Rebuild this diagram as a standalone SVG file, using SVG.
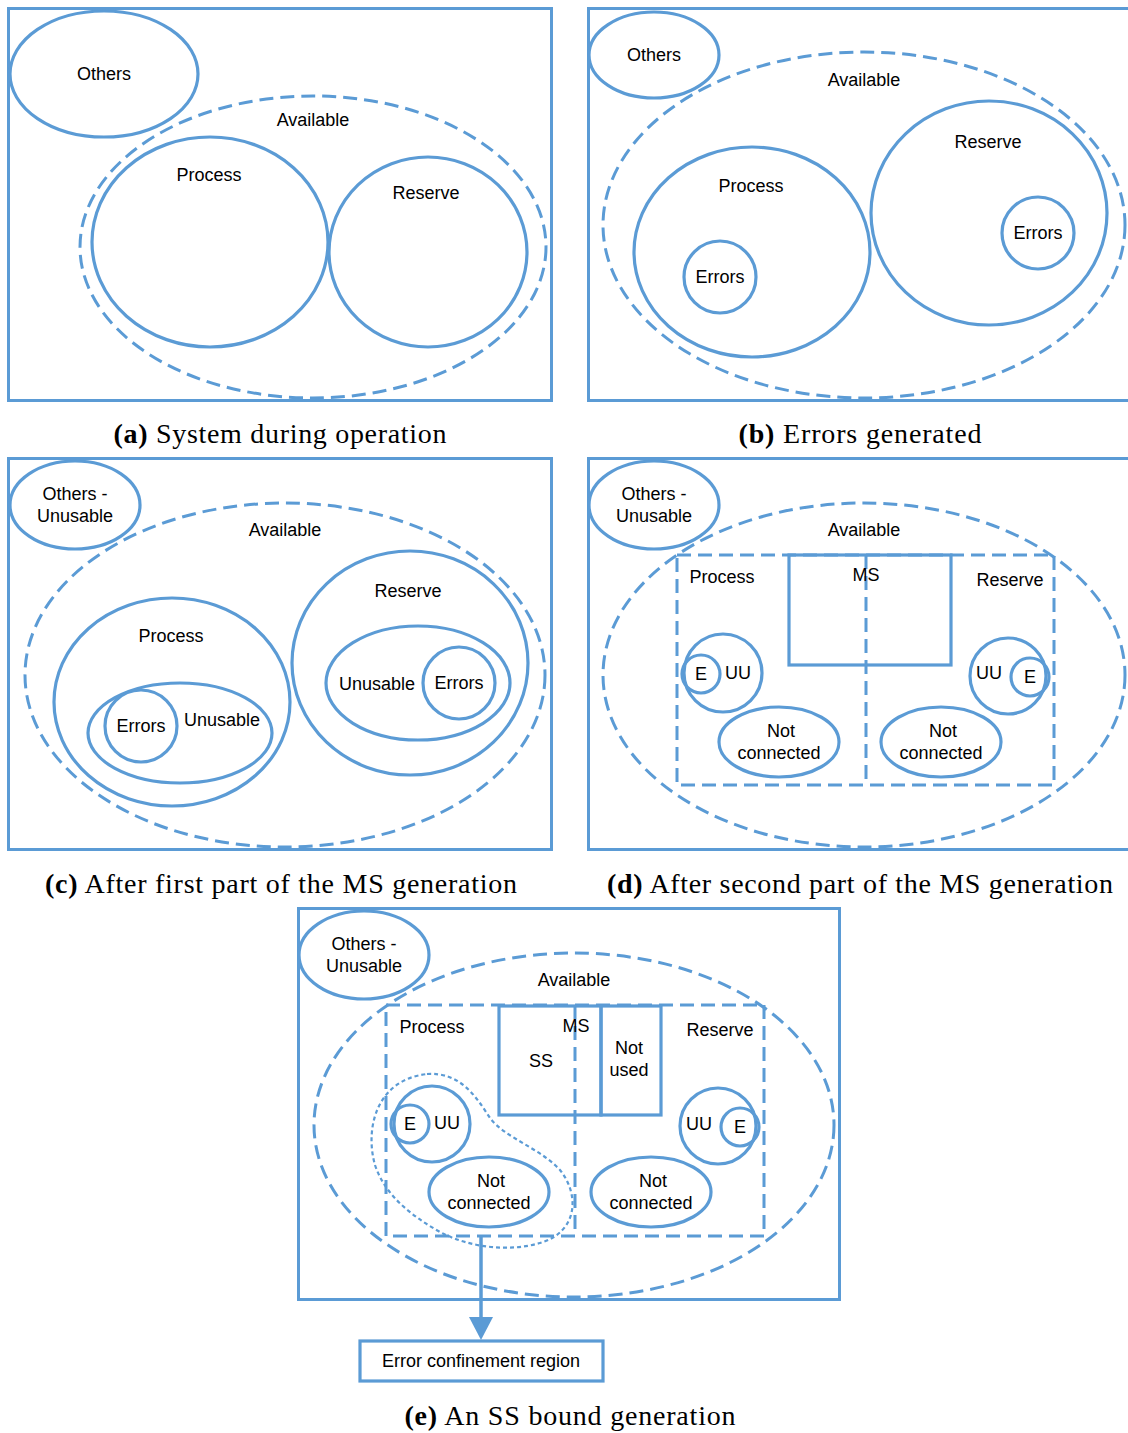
<svg xmlns="http://www.w3.org/2000/svg" width="1128" height="1433" viewBox="0 0 1128 1433">
  <style>
    .frame { fill: none; stroke: #5B9BD5; stroke-width: 3; }
    .set { fill: none; stroke: #5B9BD5; stroke-width: 3.2; }
    .avail { fill: none; stroke: #5B9BD5; stroke-width: 3; stroke-dasharray: 14 7; }
    .part { fill: none; stroke: #5B9BD5; stroke-width: 3; stroke-dasharray: 14 7; }
    .conf { fill: none; stroke: #5B9BD5; stroke-width: 2.2; stroke-dasharray: 4 3; }
    .lbl { font-family: "Liberation Sans", Arial, sans-serif; font-size: 18px; fill: #000; text-anchor: middle; dominant-baseline: central; }
    .cap { font-family: "Liberation Serif", "Times New Roman", serif; font-size: 28px; fill: #000; text-anchor: middle; }
    .cap .tag { font-weight: bold; }
  </style>
  <rect width="1128" height="1433" fill="#fff"/>

  <!-- (a) System during operation -->
  <g id="panel-a">
    <rect class="frame" x="8.5" y="8.5" width="543" height="392"/>
    <g id="a-others"><ellipse class="set" cx="104" cy="74" rx="94" ry="63"/><text class="lbl" x="104" y="74">Others</text></g>
    <g id="a-available"><ellipse class="avail" cx="313" cy="247" rx="233" ry="151"/><text class="lbl" x="313" y="120">Available</text></g>
    <g id="a-process"><ellipse class="set" cx="210" cy="242" rx="118" ry="105"/><text class="lbl" x="209" y="175">Process</text></g>
    <g id="a-reserve"><ellipse class="set" cx="428" cy="252" rx="99" ry="95"/><text class="lbl" x="426" y="193">Reserve</text></g>
    <text class="cap" x="280" y="443" textLength="333"><tspan class="tag">(a)</tspan> System during operation</text>
  </g>

  <!-- (b) Errors generated -->
  <g id="panel-b">
    <rect class="frame" x="588.5" y="8.5" width="545" height="392"/>
    <g id="b-others"><ellipse class="set" cx="654" cy="55" rx="65" ry="43"/><text class="lbl" x="654" y="55">Others</text></g>
    <g id="b-available"><ellipse class="avail" cx="864" cy="225" rx="261" ry="173"/><text class="lbl" x="864" y="80">Available</text></g>
    <g id="b-process"><ellipse class="set" cx="752" cy="252" rx="118" ry="105"/><text class="lbl" x="751" y="186">Process</text></g>
    <g id="b-reserve"><ellipse class="set" cx="989" cy="213" rx="118" ry="112"/><text class="lbl" x="988" y="142">Reserve</text></g>
    <g id="b-errors-p"><circle class="set" cx="720" cy="277" r="36"/><text class="lbl" x="720" y="277">Errors</text></g>
    <g id="b-errors-r"><circle class="set" cx="1038" cy="233" r="36"/><text class="lbl" x="1038" y="233">Errors</text></g>
    <text class="cap" x="860" y="443" textLength="243"><tspan class="tag">(b)</tspan> Errors generated</text>
  </g>

  <!-- (c) After first part of the MS generation -->
  <g id="panel-c">
    <rect class="frame" x="8.5" y="458.5" width="543" height="391"/>
    <g id="c-others"><ellipse class="set" cx="75" cy="505" rx="65" ry="44"/><text class="lbl" x="75" y="494">Others -</text><text class="lbl" x="75" y="516">Unusable</text></g>
    <g id="c-available"><ellipse class="avail" cx="285" cy="675" rx="260" ry="172"/><text class="lbl" x="285" y="530">Available</text></g>
    <g id="c-process"><ellipse class="set" cx="172" cy="702" rx="118" ry="104"/><text class="lbl" x="171" y="636">Process</text></g>
    <g id="c-unusable-p"><ellipse class="set" cx="180" cy="733" rx="92" ry="50"/><text class="lbl" x="222" y="720">Unusable</text></g>
    <g id="c-errors-p"><circle class="set" cx="141" cy="726" r="36"/><text class="lbl" x="141" y="726">Errors</text></g>
    <g id="c-reserve"><ellipse class="set" cx="410" cy="663" rx="118" ry="112"/><text class="lbl" x="408" y="591">Reserve</text></g>
    <g id="c-unusable-r"><ellipse class="set" cx="418" cy="683" rx="92" ry="57"/><text class="lbl" x="377" y="684">Unusable</text></g>
    <g id="c-errors-r"><circle class="set" cx="459" cy="683" r="36"/><text class="lbl" x="459" y="683">Errors</text></g>
    <text class="cap" x="281" y="893" textLength="472"><tspan class="tag">(c)</tspan> After first part of the MS generation</text>
  </g>

  <!-- (d) After second part of the MS generation -->
  <g id="panel-d">
    <rect class="frame" x="588.5" y="458.5" width="545" height="391"/>
    <g id="d-others"><ellipse class="set" cx="654" cy="505" rx="65" ry="44"/><text class="lbl" x="654" y="494">Others -</text><text class="lbl" x="654" y="516">Unusable</text></g>
    <g id="d-available"><ellipse class="avail" cx="864" cy="675" rx="261" ry="172"/><text class="lbl" x="864" y="530">Available</text></g>
    <g id="d-partition">
      <rect class="part" x="677" y="555" width="377" height="230"/>
      <line class="part" x1="866" y1="555" x2="866" y2="785" stroke-width="4.5"/>
      <text class="lbl" x="722" y="577">Process</text>
      <text class="lbl" x="1010" y="580">Reserve</text>
    </g>
    <g id="d-ms"><rect class="set" x="789" y="555" width="162" height="110"/><text class="lbl" x="866" y="575">MS</text></g>
    <g id="d-uu-p"><circle class="set" cx="723" cy="673" r="39"/><circle class="set" cx="701" cy="674" r="19"/><text class="lbl" x="701" y="674">E</text><text class="lbl" x="738" y="673">UU</text></g>
    <g id="d-nc-p"><ellipse class="set" cx="779" cy="742" rx="60" ry="35"/><text class="lbl" x="781" y="731">Not</text><text class="lbl" x="779" y="753">connected</text></g>
    <g id="d-uu-r"><circle class="set" cx="1008" cy="676" r="38"/><circle class="set" cx="1030" cy="677" r="19"/><text class="lbl" x="989" y="673">UU</text><text class="lbl" x="1030" y="677">E</text></g>
    <g id="d-nc-r"><ellipse class="set" cx="941" cy="742" rx="60" ry="35"/><text class="lbl" x="943" y="731">Not</text><text class="lbl" x="941" y="753">connected</text></g>
    <text class="cap" x="860" y="893" textLength="506"><tspan class="tag">(d)</tspan> After second part of the MS generation</text>
  </g>

  <!-- (e) An SS bound generation -->
  <g id="panel-e">
    <rect class="frame" x="298.5" y="908.5" width="541" height="391"/>
    <g id="e-others"><ellipse class="set" cx="364" cy="955" rx="65" ry="44"/><text class="lbl" x="364" y="944">Others -</text><text class="lbl" x="364" y="966">Unusable</text></g>
    <g id="e-available"><ellipse class="avail" cx="574" cy="1125" rx="260" ry="172"/><text class="lbl" x="574" y="980">Available</text></g>
    <g id="e-partition">
      <rect class="part" x="386" y="1005" width="378" height="231"/>
      <line class="part" x1="575" y1="1005" x2="575" y2="1236" stroke-width="4.5"/>
      <text class="lbl" x="432" y="1027">Process</text>
      <text class="lbl" x="720" y="1030">Reserve</text>
    </g>
    <g id="e-ss"><rect class="set" x="499" y="1006" width="102" height="109"/><text class="lbl" x="541" y="1061">SS</text><text class="lbl" x="576" y="1026">MS</text></g>
    <g id="e-notused"><rect class="set" x="601" y="1006" width="60" height="109" stroke-width="4"/><text class="lbl" x="629" y="1048">Not</text><text class="lbl" x="629" y="1070">used</text></g>
    <g id="e-uu-p"><circle class="set" cx="432" cy="1124" r="38"/><circle class="set" cx="410" cy="1124" r="19"/><text class="lbl" x="410" y="1124">E</text><text class="lbl" x="447" y="1123">UU</text></g>
    <g id="e-nc-p"><ellipse class="set" cx="489" cy="1192" rx="60" ry="35"/><text class="lbl" x="491" y="1181">Not</text><text class="lbl" x="489" y="1203">connected</text></g>
    <g id="e-uu-r"><circle class="set" cx="718" cy="1126" r="38"/><circle class="set" cx="740" cy="1127" r="19"/><text class="lbl" x="699" y="1124">UU</text><text class="lbl" x="740" y="1127">E</text></g>
    <g id="e-nc-r"><ellipse class="set" cx="651" cy="1192" rx="60" ry="35"/><text class="lbl" x="653" y="1181">Not</text><text class="lbl" x="651" y="1203">connected</text></g>
    <g id="e-confinement">
      <path class="conf" d="M 427 1074 C 460 1072 475 1095 490 1118 C 505 1138 540 1148 560 1170 C 580 1195 578 1232 540 1243 C 510 1252 470 1248 440 1232 C 410 1215 385 1195 375 1165 C 365 1130 375 1080 427 1074 Z"/>
    </g>
    <g id="e-region-box"><rect class="set" x="360" y="1341" width="243" height="40"/><text class="lbl" x="481" y="1361">Error confinement region</text></g>
    <text class="cap" x="570" y="1425" textLength="331"><tspan class="tag">(e)</tspan> An SS bound generation</text>
  </g>

  <!-- connectors -->
  <g id="connectors">
    <line x1="481" y1="1236" x2="481" y2="1318" stroke="#5B9BD5" stroke-width="3.5"/>
    <polygon points="469,1317 493,1317 481,1340" fill="#5B9BD5"/>
  </g>
</svg>
